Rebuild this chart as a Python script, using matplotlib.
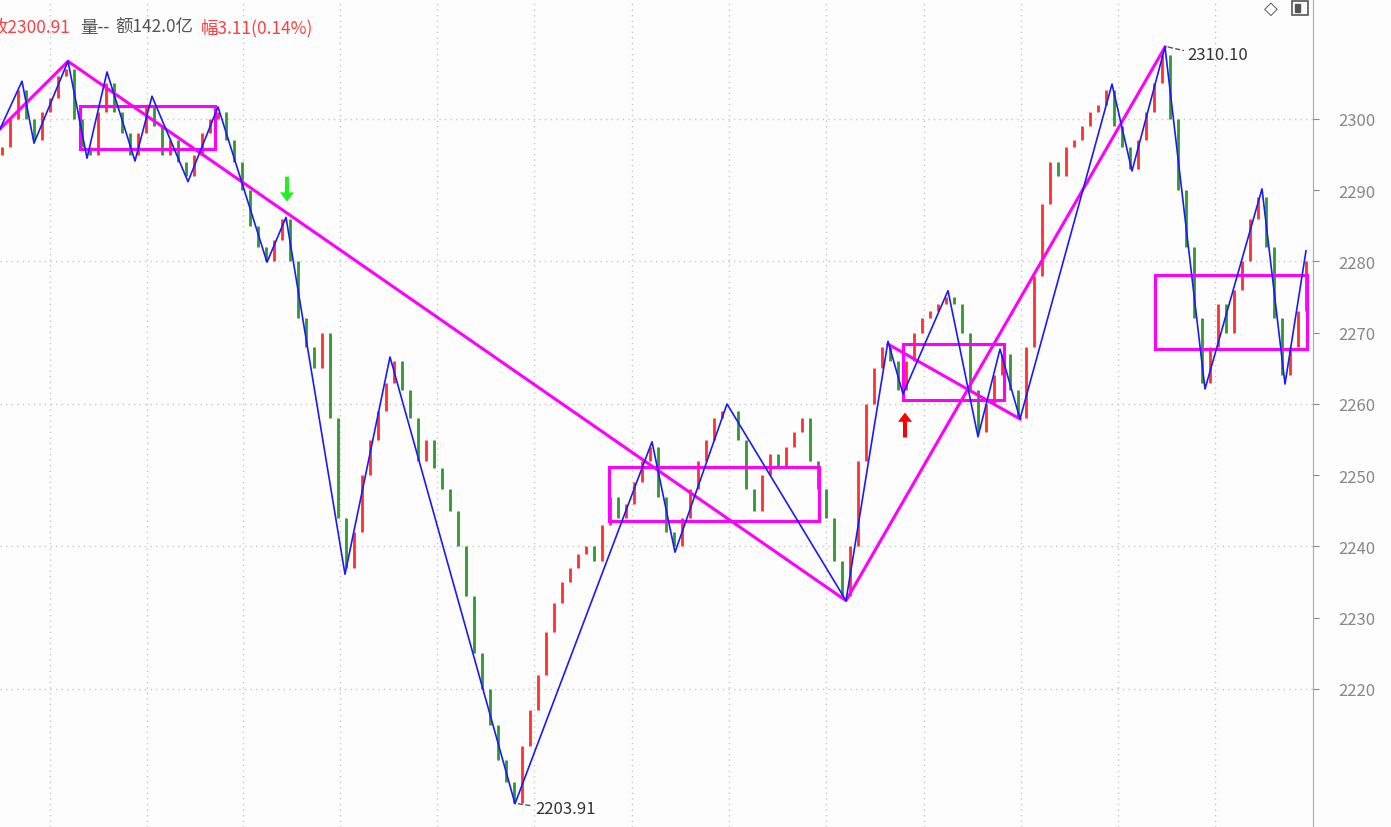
import numpy as np
import matplotlib
matplotlib.use('Agg')
from matplotlib import pyplot as plt
from matplotlib.patches import Rectangle, FancyArrow

plt.rcParams['font.family'] = ['Noto Sans CJK SC', 'DejaVu Sans']

# candle closes, one every 8 px of the chart
closes = [2296, 2300, 2304, 2300, 2297, 2301, 2303, 2306, 2307, 2300, 2296,
          2295, 2301, 2305, 2301, 2298, 2295, 2298, 2302,
          2299, 2295, 2297, 2294, 2292, 2295, 2298, 2300, 2301,
          2297, 2294, 2290, 2285, 2282, 2280, 2283, 2286,
          2280, 2272, 2268, 2265, 2270, 2258, 2244, 2237,
          2242, 2250, 2255, 2259, 2263, 2266,
          2262, 2258, 2252, 2255, 2251, 2248, 2245, 2240, 2233, 2225, 2220, 2215, 2210, 2207, 2204,
          2212, 2217, 2222, 2228, 2232, 2235, 2237, 2239, 2240, 2238, 2243, 2247,
          2244, 2246, 2249, 2252, 2254, 2247, 2242, 2240,
          2244, 2248, 2252, 2255, 2258, 2259, 2259,
          2255, 2248, 2245, 2250, 2253, 2251, 2254, 2256, 2258, 2252,
          2248, 2244, 2238, 2233, 2240,
          2252, 2260, 2265, 2268, 2266,
          2262, 2266, 2270, 2272, 2273, 2274, 2275,
          2274, 2270, 2262, 2256,
          2260, 2264, 2267, 2262, 2258,
          2268, 2278, 2288, 2294, 2292, 2296, 2297, 2299, 2301, 2302, 2304,
          2299, 2296, 2293,
          2297, 2301, 2305, 2309,
          2300, 2290, 2282, 2272, 2263,
          2268, 2274, 2270, 2276, 2280, 2286, 2289,
          2282, 2272, 2264, 2268, 2273, 2280]

# blue zigzag pivots
zz_x = [0, 22, 34, 68, 87, 107, 135, 152, 188, 218, 267, 286, 345, 390, 515,
        652, 675, 727, 846, 888, 903, 948, 978, 1000, 1020, 1112, 1132, 1165,
        1205, 1262, 1285, 1306]
zz_y = [2298.6, 2305.3, 2296.6, 2308.1, 2294.5, 2306.6, 2294.1, 2303.2, 2291.2,
        2301.7, 2279.9, 2286.2, 2236.1, 2266.6, 2203.9, 2254.7, 2239.2, 2260.0,
        2232.4, 2268.8, 2261.4, 2275.9, 2255.4, 2267.7, 2257.9, 2304.9, 2292.7,
        2310.1, 2262.1, 2290.2, 2262.8, 2281.5]

# magenta higher-level segments
seg_x = [0, 68, 846, 1165]
seg_y = [2298.6, 2308.1, 2232.4, 2310.1]
seg2_x = [888, 1020]
seg2_y = [2268.4, 2257.9]

# pivot boxes: x0, x1, low, high
boxes = [(80, 215, 2295.8, 2301.8), (609, 819, 2243.6, 2251.2),
         (903, 1004, 2260.6, 2268.4), (1155, 1307, 2267.7, 2278.1)]

yticks = [2220, 2230, 2240, 2250, 2260, 2270, 2280, 2290, 2300]
grid_y = [2220, 2240, 2260, 2280, 2300]
grid_x = [50, 147, 243, 340, 437, 534, 632, 729, 826, 924, 1021, 1118, 1215]

fig = plt.figure(figsize=(13.91, 8.28), dpi=100)
fig.patch.set_facecolor('#fdfdfd')
ax = fig.add_axes([0, 0, 1313 / 1391, 1])
ax.set_facecolor('#fdfdfd')
ax.set_xlim(0, 1313)
ax.set_ylim(2200.63, 2316.84)

for gy in grid_y:
    ax.axhline(gy, color='#c8c8c8', lw=1, ls=(0, (1, 3)), zorder=0)
for gx in grid_x:
    ax.axvline(gx, color='#c8c8c8', lw=1, ls=(0, (1, 3)), zorder=0)

# candles
xs = 2 + 8 * np.arange(len(closes))
opens = [closes[0] - 1] + closes[:-1]
for x, o, c in zip(xs, opens, closes):
    col = '#ff3030' if c >= o else '#2e9a2e'
    ax.vlines(x, min(o, c), max(o, c), color=col, lw=2, zorder=1)

ax.plot(zz_x, zz_y, color='#1a1aff', lw=1.2, zorder=3)
ax.plot(seg_x, seg_y, color='#ff00ff', lw=2.2, zorder=2)
ax.plot(seg2_x, seg2_y, color='#ff00ff', lw=2.2, zorder=2)
for x0, x1, lo, hi in boxes:
    ax.add_patch(Rectangle((x0, lo), x1 - x0, hi - lo, fill=False,
                           ec='#ff00ff', lw=2.2, zorder=2))

# signal arrows
ax.add_patch(FancyArrow(287, 2291.9, 0, -2.2, width=4, head_width=14,
                        head_length=1.3, color='#22ee22', lw=0, zorder=4))
ax.add_patch(FancyArrow(905, 2255.3, 0, 2.2, width=4, head_width=14,
                        head_length=1.3, color='#ff0000', lw=0, zorder=4))

ax.plot([1168, 1184], [2310.1, 2309.6], color='#555555', lw=1, ls='--')
ax.text(1187, 2309.1, '2310.10', color='#333333', fontsize=12, va='center')
ax.plot([518, 532], [2203.9, 2203.6], color='#555555', lw=1, ls='--')
ax.text(535, 2203.2, '2203.91', color='#333333', fontsize=12, va='center')

ax.set_yticks(yticks)
ax.yaxis.tick_right()
ax.tick_params(axis='y', colors='#888888', labelsize=12, length=4, pad=14)
ax.set_xticks([])
for s in ['left', 'top', 'bottom']:
    ax.spines[s].set_visible(False)
ax.spines['right'].set_color('#aaaaaa')

# header line
px = lambda v: v / 1391
hy = 1 - 28 / 828
fig.text(px(-9), hy, '收2300.91', color='#ff4040', fontsize=12.5, va='center')
fig.text(px(80), hy, '量--', color='#555555', fontsize=12.5, va='center')
fig.text(px(115), hy, '额142.0亿', color='#555555', fontsize=12.5, va='center')
fig.text(px(201), hy, '幅3.11(0.14%)', color='#ff4040', fontsize=12.5, va='center')
fig.text(px(1264), 1 - 9 / 828, '◇', color='#555555', fontsize=13, va='center',
         family='DejaVu Sans')
fig.patches.append(Rectangle((px(1292), 1 - 16 / 828), 16 / 1391, 14 / 828,
                             transform=fig.transFigure, fill=False, ec='#555555', lw=1.2))
fig.patches.append(Rectangle((px(1295), 1 - 13 / 828), 5 / 1391, 8 / 828,
                             transform=fig.transFigure, color='#555555'))

fig.savefig('out.png', dpi=100, facecolor=fig.get_facecolor())
